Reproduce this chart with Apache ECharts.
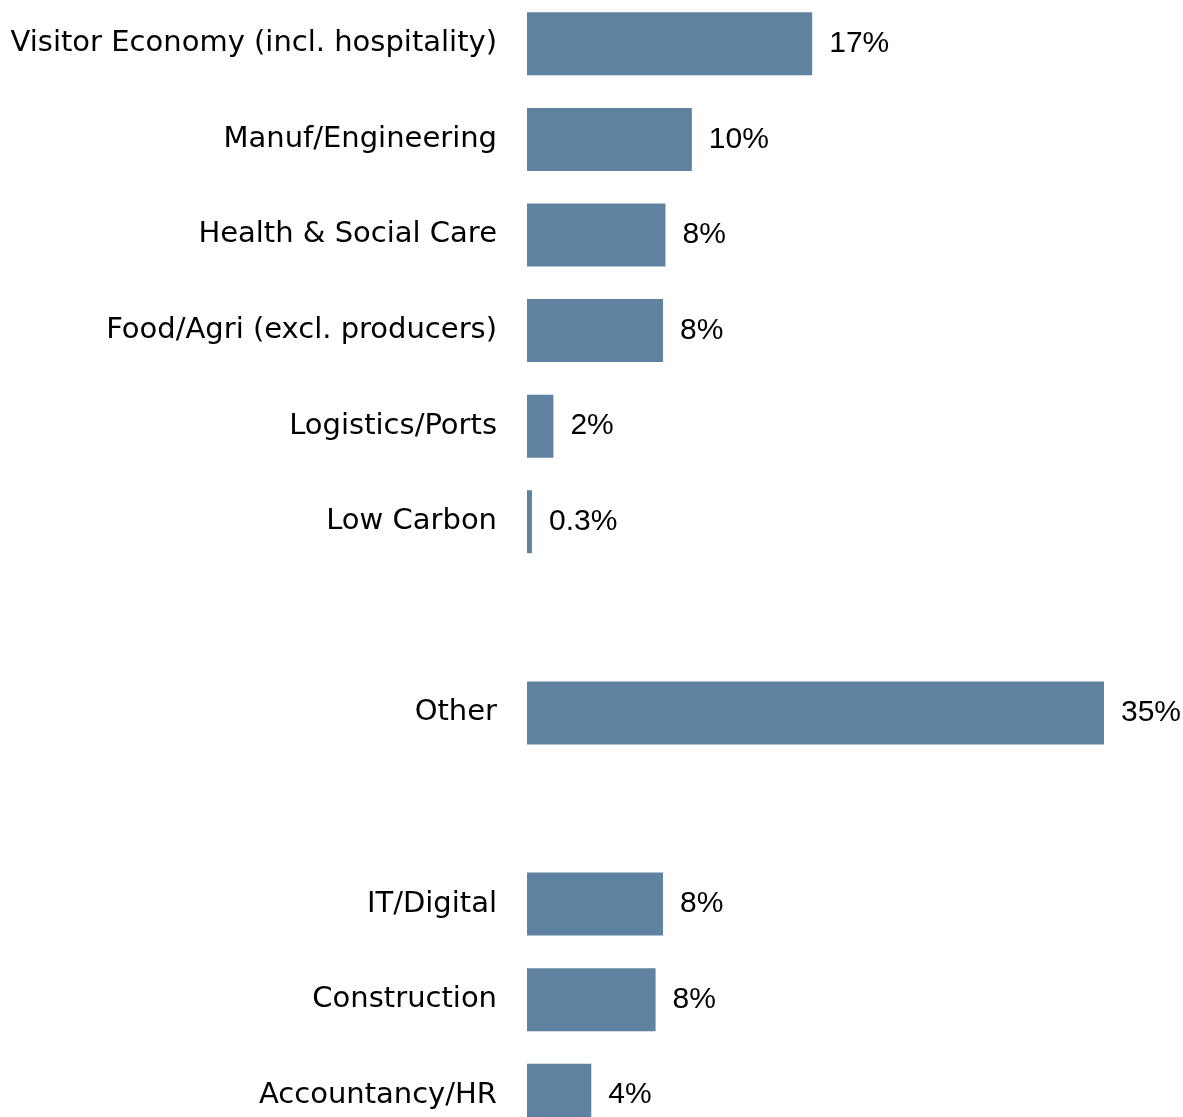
<!DOCTYPE html>
<html>
<head>
<meta charset="utf-8">
<style>
  html, body { margin: 0; padding: 0; background: #ffffff; overflow: hidden; }
  #chart { width: 1183px; height: 1160px; margin-top: -4px; }
</style>
<script src="https://cdn.jsdelivr.net/npm/echarts@6/dist/echarts.min.js"></script>
</head>
<body>
<div id="chart"></div>
<script>
// Categories (empty strings are the gaps between groups)
var categories = [
  'Visitor Economy (incl. hospitality)',
  'Manuf/Engineering',
  'Health & Social Care',
  'Food/Agri (excl. producers)',
  'Logistics/Ports',
  'Low Carbon',
  '',
  'Other',
  '',
  'IT/Digital',
  'Construction',
  'Accountancy/HR'
];
// Bar values in percent
var values = [17.3, 10.0, 8.4, 8.25, 1.6, 0.3, null, 35, null, 8.25, 7.8, 3.9];
// Data labels as printed on the chart
var valueLabels = ['17%', '10%', '8%', '8%', '2%', '0.3%', '', '35%', '', '8%', '8%', '4%'];

var FONT = 'DejaVu Sans';
var LABEL_FONT = "'Liberation Sans Narrow', 'Liberation Sans', sans-serif";
var chart = echarts.init(document.getElementById('chart'), null, { renderer: 'canvas' });
chart.setOption({
  animation: false,
  backgroundColor: '#ffffff',
  grid: { left: 527, width: 577, top: 0, height: 1147, containLabel: false },
  xAxis: {
    type: 'value', min: 0, max: 35,
    show: false,
    splitLine: { show: false }
  },
  yAxis: {
    type: 'category',
    data: categories,
    inverse: true,
    axisLine: { show: false },
    axisTick: { show: false },
    axisLabel: {
      margin: 30,
      color: '#000000',
      fontFamily: FONT,
      fontSize: 29
    }
  },
  series: [{
    type: 'bar',
    data: values,
    barWidth: 63,
    itemStyle: { color: '#5f82a1' },
    label: {
      show: true,
      position: 'right',
      distance: 17,
      color: '#000000',
      fontFamily: LABEL_FONT,
      fontSize: 30,
      formatter: function (p) { return valueLabels[p.dataIndex]; }
    }
  }]
});
</script>
</body>
</html>
